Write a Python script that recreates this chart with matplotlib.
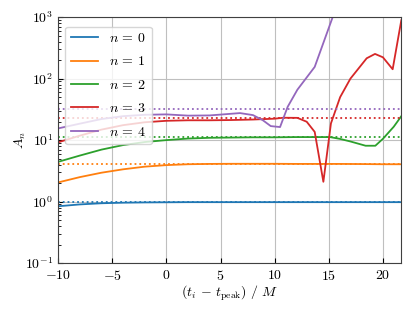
import numpy as np
from matplotlib import pyplot as plt

plt.rcParams['font.family'] = 'serif'
plt.rcParams['font.serif'] = ['cmr10']
plt.rcParams['mathtext.fontset'] = 'cm'
plt.rcParams['axes.formatter.use_mathtext'] = True
plt.rcParams['font.size'] = 10

# amplitude estimates A_n vs (t_i - t_peak)/M
t0 = [-10, -8, -6, -4, -2, 0, 2, 4, 6, 8, 10, 12, 14, 16, 18, 20, 21.7]
a0 = [0.84, 0.90, 0.94, 0.96, 0.97, 0.975, 0.98, 0.98, 0.98, 0.98, 0.98,
      0.98, 0.98, 0.98, 0.98, 0.98, 0.98]

t1 = [-10, -8, -6, -4, -2, 0, 2, 4, 6, 8, 10, 12, 14, 16, 18, 20, 21.7]
a1 = [2.05, 2.5, 2.95, 3.35, 3.7, 3.92, 4.05, 4.1, 4.12, 4.12, 4.12,
      4.1, 4.1, 4.1, 4.08, 4.05, 4.05]

t2 = [-10, -8, -6, -4, -2, 0, 2, 4, 6, 8, 10, 12, 14, 15.1, 16, 17, 18.4,
      19.3, 20, 21, 21.7]
a2 = [4.43, 5.6, 7.0, 8.3, 9.3, 10.0, 10.6, 10.9, 11.0, 11.1, 11.1, 11.2,
      11.2, 11.2, 10.5, 9.5, 8.1, 8.1, 10.5, 16.5, 24.5]

t3 = [-10, -8, -6, -4, -2, 0, 2, 4, 6, 8, 10, 10.8, 12.1, 12.96, 13.7,
      14.5, 15.2, 16.05, 17, 18.5, 19.27, 20, 20.9, 21.7]
a3 = [9.2, 11.8, 14.8, 17.5, 19.5, 20.6, 21.0, 21.0, 21.2, 21.6, 22.3,
      23.1, 23.0, 19.9, 13.6, 2.1, 18.7, 50, 100, 214, 252, 222, 142, 890]

t4 = [-10, -8, -6, -4, -2, 0, 2, 4, 6.8, 8.0, 8.9, 9.64, 10.5, 11.2, 12.1,
      13.7, 15.36, 16]
a4 = [15.5, 18.5, 22.0, 24.5, 25.8, 26.2, 25.0, 25.2, 27.5, 25.5, 21.1,
      16.9, 16.3, 34.7, 66, 155, 1000, 1600]

ref = [0.98, 4.12, 11.2, 22.5, 32.3]

series = [(t0, a0), (t1, a1), (t2, a2), (t3, a3), (t4, a4)]
colors = ['C0', 'C1', 'C2', 'C3', 'C4']

fig = plt.figure(figsize=(4.15, 3.11), dpi=100)
ax = fig.add_axes([0.14, 0.154, 0.826, 0.791])

for n, (t, a) in enumerate(series):
  ax.semilogy(t, a, '-', c=colors[n], lw=1.3, label=r'$n\,=\,%i$' % n)
  ax.axhline(ref[n], c=colors[n], ls=':', lw=1.3)

ax.set_xlim(-10, 21.66)
ax.set_ylim(1e-1, 1e3)
ax.set_xticks([-10, -5, 0, 5, 10, 15, 20])
ax.grid(True, which='major', color='0.75', lw=0.8)
ax.tick_params(which='both', direction='in')
ax.tick_params(axis='x', pad=4.5)
for s in ax.spines.values():
  s.set_color('0.25')
ax.set_xlabel(r'$(t_i\,-\,t_{\rm peak})\ /\ M$', labelpad=0)
ax.set_ylabel(r'$A_n$', labelpad=-2)
ax.legend(loc='upper left', fontsize=10, labelspacing=0.75,
          bbox_to_anchor=(0, 0.99))

plt.savefig('out.png', dpi=100)
